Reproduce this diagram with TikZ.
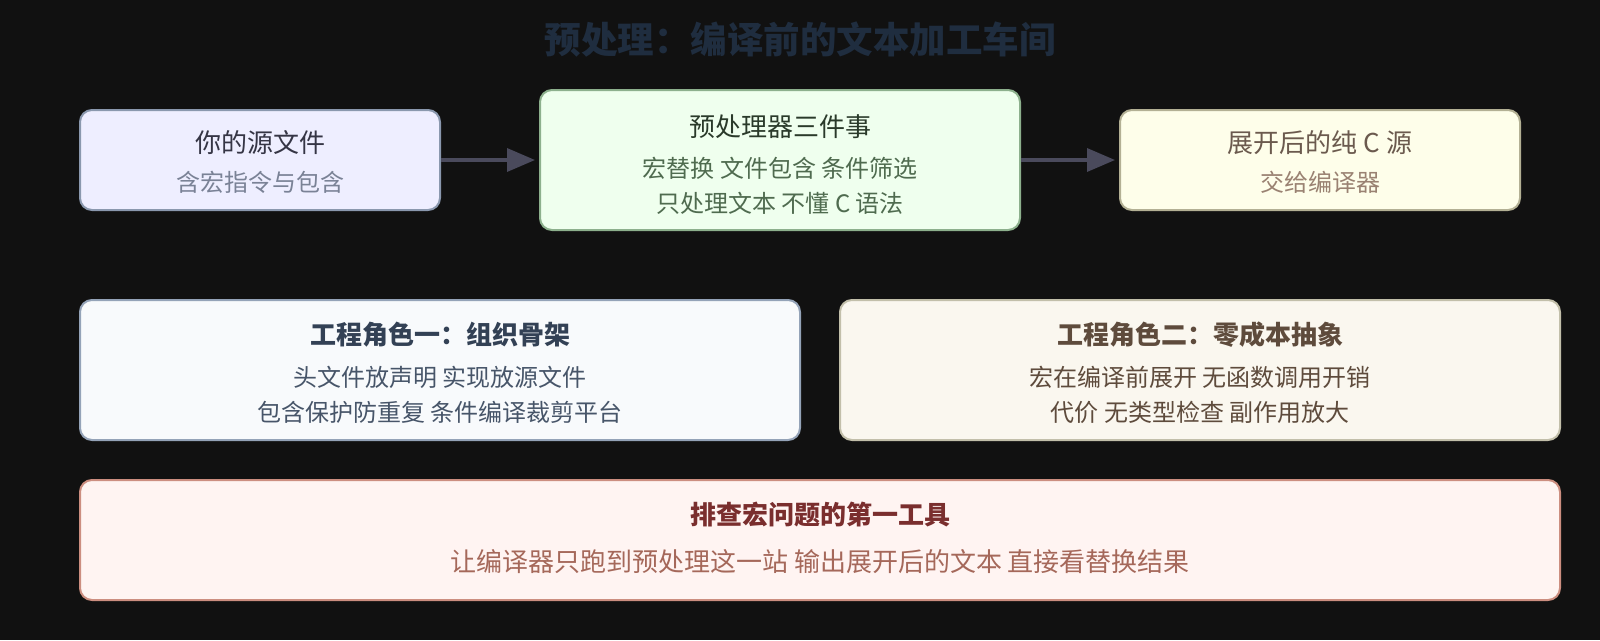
\documentclass[tikz,border=0pt]{standalone}
\usepackage{fontspec}
\setmainfont{Noto Sans CJK SC}
\usetikzlibrary{arrows.meta}
\definecolor{bgc}{HTML}{111111}
\definecolor{ttl}{HTML}{1F2D3F}
\definecolor{aF}{HTML}{EEEEFF}\definecolor{aD}{HTML}{8A98AE}\definecolor{aT}{HTML}{353545}\definecolor{aS}{HTML}{7A8296}
\definecolor{bF}{HTML}{EFFFEE}\definecolor{bD}{HTML}{8DB08D}\definecolor{bT}{HTML}{2A3A2A}\definecolor{bS}{HTML}{4F6B4F}
\definecolor{cF}{HTML}{FEFEEA}\definecolor{cD}{HTML}{B3B094}\definecolor{cT}{HTML}{6B5A4E}\definecolor{cS}{HTML}{9A8272}
\definecolor{arr}{HTML}{4A4A5C}
\definecolor{dF}{HTML}{F8FAFC}\definecolor{dD}{HTML}{94A3B8}\definecolor{dT}{HTML}{334155}\definecolor{dS}{HTML}{475569}
\definecolor{eF}{HTML}{FAF7EF}\definecolor{eD}{HTML}{C2BFAA}\definecolor{eT}{HTML}{5E4B3C}\definecolor{eS}{HTML}{5E4B3C}
\definecolor{fF}{HTML}{FFF4F2}\definecolor{fD}{HTML}{CC8E80}\definecolor{fT}{HTML}{7A2E2E}\definecolor{fS}{HTML}{A5685A}
\tikzset{
  card/.style={draw, line width=2pt, rounded corners=12pt, inner sep=0pt},
  hd/.style={inner sep=0pt, anchor=center, font=\fontsize{26}{30}\selectfont},
  hdb/.style={inner sep=0pt, anchor=center, font=\fontsize{26}{30}\selectfont\bfseries},
  sb/.style={inner sep=0pt, anchor=center, font=\fontsize{24}{28}\selectfont},
  sbl/.style={inner sep=0pt, anchor=center, font=\fontsize{26}{30}\selectfont},
  flow/.style={draw=arr, line width=3.5pt, -{Triangle[length=28pt,width=23pt]}, shorten >=4pt}
}
\begin{document}
\begin{tikzpicture}[x=1pt,y=-1pt]
\fill[bgc] (0,0) rectangle (1600,640);
\useasboundingbox (0,0) rectangle (1600,640);
\node[inner sep=0pt, text=ttl, font=\fontsize{36.5}{42}\selectfont\bfseries] (title) at (800,40) {预处理：编译前的文本加工车间};
% row 1
\node[card, fill=aF, draw=aD, minimum width=360pt, minimum height=100pt] (src) at (260,160) {};
\node[hd, text=aT] (srcT) at (260,143) {你的源文件};
\node[sb, text=aS] (srcS) at (260,182) {含宏指令与包含};
\node[card, fill=bF, draw=bD, minimum width=480pt, minimum height=140pt] (pp) at (780,160) {};
\node[hd, text=bT] (ppT) at (780,127) {预处理器三件事};
\node[sb, text=bS] (ppS1) at (780,168) {宏替换 文件包含 条件筛选};
\node[sb, text=bS] (ppS2) at (780,203) {只处理文本 不懂 C 语法};
\node[card, fill=cF, draw=cD, minimum width=400pt, minimum height=100pt] (out) at (1320,160) {};
\node[hd, text=cT] (outT) at (1320,143) {展开后的纯 C 源};
\node[sb, text=cS] (outS) at (1320,182) {交给编译器};
\draw[flow] (src.east) -- (pp.west);
\draw[flow] (pp.east) -- (out.west);
% row 2
\node[card, fill=dF, draw=dD, minimum width=720pt, minimum height=140pt] (r1) at (440,370) {};
\node[hdb, text=dT] (r1T) at (440,335) {工程角色一：组织骨架};
\node[sb, text=dS] (r1S1) at (440,377) {头文件放声明 实现放源文件};
\node[sb, text=dS] (r1S2) at (440,412) {包含保护防重复 条件编译裁剪平台};
\node[card, fill=eF, draw=eD, minimum width=720pt, minimum height=140pt] (r2) at (1200,370) {};
\node[hdb, text=eT] (r2T) at (1200,335) {工程角色二：零成本抽象};
\node[sb, text=eS] (r2S1) at (1200,377) {宏在编译前展开 无函数调用开销};
\node[sb, text=eS] (r2S2) at (1200,412) {代价 无类型检查 副作用放大};
% row 3
\node[card, fill=fF, draw=fD, minimum width=1480pt, minimum height=120pt] (dbg) at (820,540) {};
\node[hdb, text=fT] (dbgT) at (820,515) {排查宏问题的第一工具};
\node[sbl, text=fS] (dbgS) at (820,562) {让编译器只跑到预处理这一站 输出展开后的文本 直接看替换结果};
\end{tikzpicture}
\end{document}
